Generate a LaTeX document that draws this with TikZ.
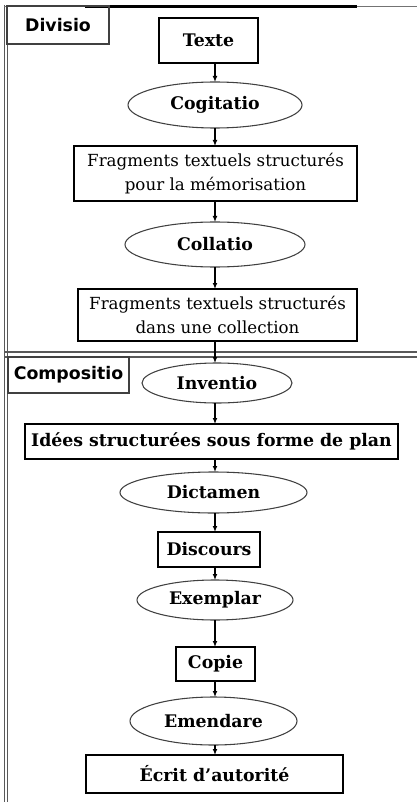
\documentclass[tikz,border=0pt]{standalone}
\usepackage{fontspec}
\setmainfont{DejaVu Serif}
\setsansfont{DejaVu Sans}
\usetikzlibrary{shapes.geometric,arrows.meta}
\begin{document}
\begin{tikzpicture}[x=0.75pt,y=-0.75pt,
  every node/.style={inner sep=0pt,outer sep=0pt},
  boxnode/.style={draw=black,line width=0.9pt,rectangle,align=center,font=\fontsize{13}{18}\selectfont\bfseries},
  txtbox/.style={draw=black,line width=0.9pt,rectangle,align=center,font=\fontsize{12.5}{18}\selectfont},
  ellnode/.style={draw=black!75,line width=0.8pt,ellipse,font=\fontsize{13}{18}\selectfont\bfseries},
  lblbox/.style={draw=black!75,line width=0.9pt,rectangle,font=\fontsize{13}{16}\selectfont\sffamily\bfseries},
  arr/.style={line width=0.8pt,-{Latex[length=4.5pt,width=3.6pt]}},
  frame/.style={draw=black!65,line width=0.9pt}
]
\useasboundingbox (0,0) rectangle (417,802);
% frame lines
\draw[frame] (4.5,5) -- (4.5,802);
\draw[frame] (7.5,7) -- (7.5,802);
\draw[draw=black!55,line width=1.4pt] (4,6.5) -- (417,6.5);
\draw[draw=black,line width=2.3pt] (85,6.5) -- (357,6.5);
\draw[frame] (4,352) -- (417,352);
\draw[frame] (4,357) -- (417,357);
% labels
\node[lblbox,minimum width=102*0.75pt,minimum height=38*0.75pt] (divisio) at (58,25) {Divisio};
\node[lblbox,minimum width=121*0.75pt,minimum height=36*0.75pt] (compositio) at (68.5,375) {Compositio};
% nodes
\node[boxnode,line width=1.8pt,minimum width=99*0.75pt,minimum height=45*0.75pt] (texte) at (208.5,40.5) {Texte};
\node[ellnode,minimum width=174*0.75pt,minimum height=46*0.75pt] (cogitatio) at (215,105) {Cogitatio};
\node[txtbox,minimum width=283*0.75pt,minimum height=55*0.75pt] (frag1) at (215.5,173.5) {Fragments textuels structurés\\pour la mémorisation};
\node[ellnode,minimum width=180*0.75pt,minimum height=45*0.75pt] (collatio) at (215,244.5) {Collatio};
\node[txtbox,minimum width=279*0.75pt,minimum height=52*0.75pt] (frag2) at (217.5,315) {Fragments textuels structurés\\dans une collection};
\node[ellnode,minimum width=150*0.75pt,minimum height=40*0.75pt] (inventio) at (217,383) {Inventio};
\node[boxnode,minimum width=373*0.75pt,minimum height=35*0.75pt] (idees) at (211.5,441.5) {Idées structurées sous forme de plan};
\node[ellnode,minimum width=187*0.75pt,minimum height=41*0.75pt] (dictamen) at (213.5,492.5) {Dictamen};
\node[boxnode,minimum width=102*0.75pt,minimum height=35*0.75pt] (discours) at (209,549.5) {Discours};
\node[ellnode,minimum width=156*0.75pt,minimum height=40*0.75pt] (exemplar) at (215,600) {Exemplar};
\node[boxnode,minimum width=79*0.75pt,minimum height=34*0.75pt] (copie) at (215.5,664) {Copie};
\node[ellnode,minimum width=167*0.75pt,minimum height=48*0.75pt] (emendare) at (213.5,721) {Emendare};
\node[boxnode,minimum width=257*0.75pt,minimum height=38*0.75pt] (ecrit) at (214.5,774) {Écrit d’autorité};
\coordinate (axis) at (215,0);
% arrows
\foreach \a/\b in {texte/cogitatio,cogitatio/frag1,frag1/collatio,collatio/frag2,frag2/inventio,inventio/idees,idees/dictamen,dictamen/discours,discours/exemplar,exemplar/copie,copie/emendare,emendare/ecrit}
  \draw[arr] (\a.south -| axis) -- (\b.north -| axis);
\end{tikzpicture}
\end{document}
